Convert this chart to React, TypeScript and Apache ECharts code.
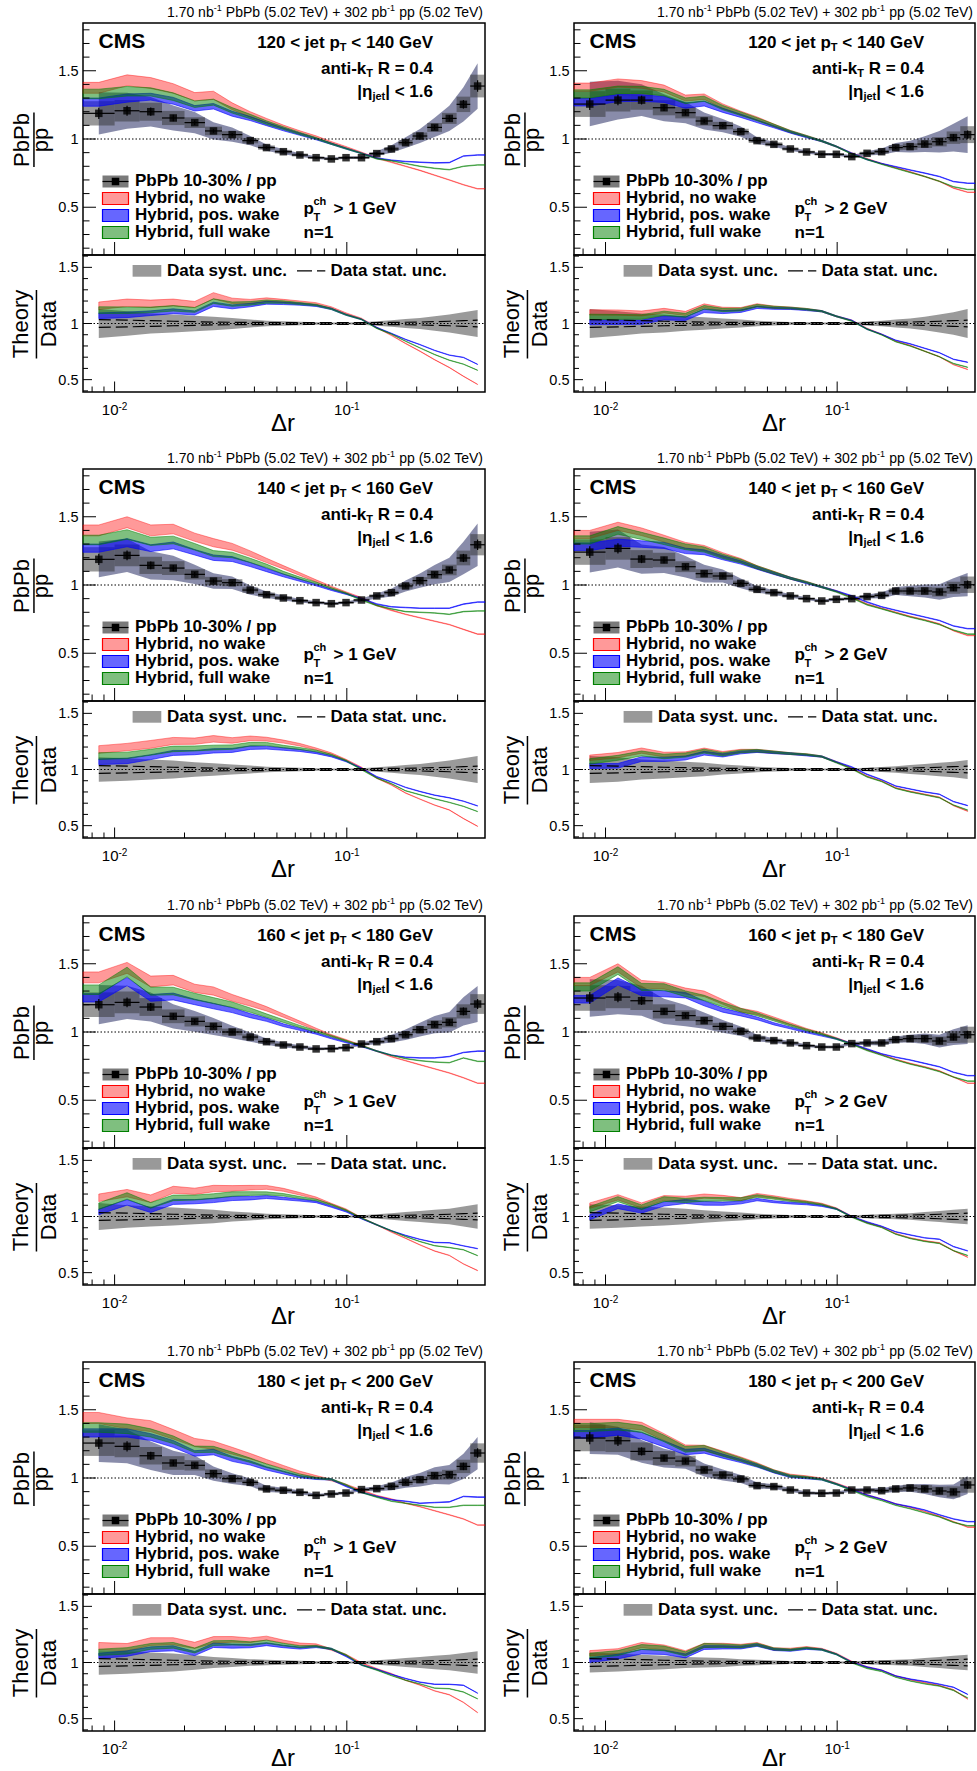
import React, { useEffect, useRef } from 'react';
import * as echarts from 'echarts';

const FF = '"Liberation Sans", Arial, Helvetica, sans-serif';

// Δr bin edges
const binEdges = [0.00731, 0.01, 0.0128, 0.016, 0.02, 0.0245, 0.029, 0.0355, 0.0415, 0.049, 0.058, 0.068, 0.08, 0.092, 0.107, 0.125, 0.145, 0.167, 0.192, 0.222, 0.257, 0.297, 0.34, 0.3936];
const X_MIN = binEdges[0];
const X_MAX = binEdges[binEdges.length - 1];
const binCenters = binEdges.slice(0, -1).map((e, i) => Math.sqrt(e * binEdges[i + 1]));

// ticks
const yTickValues = [0.5, 1, 1.5];
const yTickLabels = ['0.5', '1', '1.5'];
const yMinorTop = [0.2, 0.3, 0.4, 0.6, 0.7, 0.8, 0.9, 1.1, 1.2, 1.3, 1.4, 1.6, 1.7, 1.8];
const yMinorBottom = [0.4, 0.6, 0.7, 0.8, 0.9, 1.1, 1.2, 1.3, 1.4, 1.6];
const xTickValues = [0.01, 0.1];
const xTickExponents = ['-2', '-1'];
const xMinorValues = [0.008, 0.009, 0.02, 0.03, 0.04, 0.05, 0.06, 0.07, 0.08, 0.09, 0.2, 0.3];

const jetPtBins = [['120', '140'], ['140', '160'], ['160', '180'], ['180', '200']];
const trackPtCuts = ['1', '2'];

// relative data uncertainties
const boxRel = [0.075, 0.065, 0.055, 0.045, 0.035, 0.03, 0.025, 0.02, 0.017, 0.015, 0.012, 0.01, 0.01, 0.01, 0.01, 0.012, 0.015, 0.02, 0.025, 0.03, 0.035, 0.045, 0.06];
const statRel = [0.035, 0.03, 0.025, 0.02, 0.016, 0.013, 0.011, 0.01, 0.009, 0.008, 0.008, 0.008, 0.008, 0.008, 0.008, 0.009, 0.01, 0.011, 0.013, 0.016, 0.02, 0.025, 0.03];

// theory band half widths per track-pT cut
const widthNoWake_pt1 = [0.04, 0.04, 0.04, 0.035, 0.03, 0.03, 0.025, 0.02, 0.016, 0.012, 0.01, 0.008, 0.006, 0.005, 0.004, 0.003, 0.003, 0.002, 0.002, 0.002, 0.002, 0.002, 0.002];
const widthPosWake_pt1 = [0.03, 0.03, 0.025, 0.025, 0.02, 0.02, 0.018, 0.015, 0.012, 0.01, 0.008, 0.006, 0.005, 0.004, 0.003, 0.003, 0.002, 0.002, 0.002, 0.002, 0.002, 0.002, 0.002];
const widthFullWake_pt1 = [0.035, 0.035, 0.03, 0.028, 0.024, 0.022, 0.02, 0.016, 0.013, 0.01, 0.008, 0.006, 0.005, 0.004, 0.003, 0.003, 0.002, 0.002, 0.002, 0.002, 0.002, 0.002, 0.002];
const widthNoWake_pt2 = [0.03, 0.03, 0.028, 0.025, 0.022, 0.02, 0.017, 0.014, 0.012, 0.01, 0.008, 0.006, 0.005, 0.004, 0.003, 0.003, 0.002, 0.002, 0.002, 0.002, 0.002, 0.002, 0.002];
const widthPosWake_pt2 = [0.028, 0.026, 0.024, 0.022, 0.02, 0.018, 0.015, 0.012, 0.01, 0.008, 0.007, 0.006, 0.005, 0.004, 0.003, 0.003, 0.002, 0.002, 0.002, 0.002, 0.002, 0.002, 0.002];
const widthFullWake_pt2 = [0.03, 0.028, 0.026, 0.024, 0.021, 0.019, 0.016, 0.013, 0.011, 0.009, 0.007, 0.006, 0.005, 0.004, 0.003, 0.003, 0.002, 0.002, 0.002, 0.002, 0.002, 0.002, 0.002];

// 120 < pT < 140
const ratio_120_140_pt1 = [1.188, 1.207, 1.2, 1.154, 1.12, 1.059, 1.032, 0.988, 0.937, 0.907, 0.883, 0.863, 0.854, 0.863, 0.863, 0.893, 0.927, 0.973, 1.022, 1.085, 1.151, 1.254, 1.388];
const sys_120_140_pt1 = [0.13, 0.11, 0.09, 0.08, 0.07, 0.06, 0.05, 0.035, 0.025, 0.02, 0.015, 0.012, 0.01, 0.01, 0.012, 0.02, 0.03, 0.04, 0.05, 0.065, 0.08, 0.1, 0.12];
const noWake_120_140_pt1 = [1.375, 1.43, 1.41, 1.37, 1.31, 1.32, 1.24, 1.18, 1.135, 1.09, 1.05, 1.015, 0.975, 0.94, 0.9, 0.86, 0.83, 0.8, 0.77, 0.735, 0.7, 0.665, 0.635];
const posWake_120_140_pt1 = [1.27, 1.3, 1.31, 1.28, 1.225, 1.24, 1.185, 1.15, 1.11, 1.07, 1.035, 1.0, 0.965, 0.93, 0.895, 0.86, 0.845, 0.835, 0.83, 0.825, 0.827, 0.875, 0.883];
const fullWake_120_140_pt1 = [1.33, 1.35, 1.345, 1.31, 1.255, 1.27, 1.21, 1.165, 1.12, 1.08, 1.04, 1.005, 0.965, 0.93, 0.895, 0.855, 0.84, 0.82, 0.8, 0.785, 0.775, 0.8, 0.81];

const ratio_120_140_pt2 = [1.256, 1.285, 1.285, 1.229, 1.193, 1.132, 1.098, 1.054, 0.988, 0.961, 0.927, 0.905, 0.888, 0.888, 0.871, 0.895, 0.907, 0.937, 0.944, 0.963, 0.98, 1.01, 1.032];
const sys_120_140_pt2 = [0.13, 0.11, 0.09, 0.08, 0.065, 0.055, 0.045, 0.035, 0.025, 0.018, 0.014, 0.012, 0.01, 0.01, 0.012, 0.018, 0.025, 0.035, 0.045, 0.06, 0.08, 0.1, 0.13];
const noWake_120_140_pt2 = [1.38, 1.41, 1.4, 1.37, 1.3, 1.31, 1.24, 1.19, 1.15, 1.1, 1.055, 1.02, 0.985, 0.945, 0.895, 0.855, 0.82, 0.79, 0.76, 0.725, 0.69, 0.64, 0.61];
const posWake_120_140_pt2 = [1.27, 1.3, 1.3, 1.29, 1.245, 1.26, 1.21, 1.17, 1.13, 1.09, 1.05, 1.015, 0.985, 0.945, 0.895, 0.85, 0.82, 0.797, 0.773, 0.75, 0.725, 0.688, 0.676];
const fullWake_120_140_pt2 = [1.33, 1.36, 1.36, 1.34, 1.28, 1.295, 1.23, 1.185, 1.145, 1.1, 1.055, 1.02, 0.985, 0.945, 0.89, 0.85, 0.815, 0.785, 0.755, 0.725, 0.69, 0.65, 0.63];

// 140 < pT < 160
const ratio_140_160_pt1 = [1.188, 1.217, 1.144, 1.124, 1.078, 1.029, 1.017, 0.963, 0.929, 0.905, 0.885, 0.871, 0.863, 0.871, 0.89, 0.92, 0.944, 0.993, 1.032, 1.076, 1.11, 1.198, 1.295];
const sys_140_160_pt1 = [0.11, 0.1, 0.09, 0.08, 0.065, 0.055, 0.045, 0.035, 0.025, 0.02, 0.015, 0.012, 0.01, 0.01, 0.012, 0.02, 0.03, 0.04, 0.05, 0.065, 0.08, 0.1, 0.12];
const noWake_140_160_pt1 = [1.4, 1.46, 1.4, 1.41, 1.35, 1.31, 1.28, 1.23, 1.18, 1.13, 1.08, 1.03, 0.985, 0.945, 0.905, 0.85, 0.815, 0.785, 0.76, 0.735, 0.71, 0.675, 0.64];
const posWake_140_160_pt1 = [1.27, 1.31, 1.27, 1.29, 1.24, 1.2, 1.19, 1.15, 1.11, 1.07, 1.035, 1.0, 0.965, 0.935, 0.9, 0.86, 0.84, 0.835, 0.83, 0.83, 0.83, 0.86, 0.875];
const fullWake_140_160_pt1 = [1.33, 1.37, 1.32, 1.33, 1.28, 1.23, 1.22, 1.18, 1.14, 1.09, 1.05, 1.015, 0.975, 0.94, 0.89, 0.85, 0.825, 0.805, 0.8, 0.795, 0.785, 0.805, 0.81];

const ratio_140_160_pt2 = [1.241, 1.268, 1.19, 1.183, 1.134, 1.083, 1.066, 1.012, 0.968, 0.944, 0.92, 0.9, 0.883, 0.895, 0.9, 0.915, 0.924, 0.956, 0.956, 0.956, 0.949, 0.98, 1.002];
const sys_140_160_pt2 = [0.12, 0.11, 0.09, 0.08, 0.07, 0.06, 0.045, 0.035, 0.025, 0.018, 0.014, 0.012, 0.01, 0.01, 0.012, 0.016, 0.022, 0.03, 0.04, 0.05, 0.06, 0.07, 0.085];
const noWake_140_160_pt2 = [1.37, 1.43, 1.39, 1.34, 1.29, 1.27, 1.22, 1.18, 1.13, 1.09, 1.05, 1.02, 0.985, 0.955, 0.91, 0.86, 0.83, 0.8, 0.77, 0.745, 0.715, 0.665, 0.63];
const posWake_140_160_pt2 = [1.28, 1.31, 1.3, 1.29, 1.25, 1.24, 1.2, 1.165, 1.125, 1.085, 1.05, 1.015, 0.985, 0.955, 0.92, 0.875, 0.84, 0.815, 0.79, 0.765, 0.74, 0.7, 0.68];
const fullWake_140_160_pt2 = [1.33, 1.4, 1.36, 1.32, 1.28, 1.26, 1.21, 1.175, 1.13, 1.09, 1.05, 1.02, 0.985, 0.95, 0.905, 0.855, 0.825, 0.795, 0.765, 0.74, 0.71, 0.67, 0.64];

// 160 < pT < 180
const ratio_160_180_pt1 = [1.2, 1.217, 1.183, 1.115, 1.078, 1.041, 1.0, 0.963, 0.929, 0.905, 0.89, 0.876, 0.878, 0.885, 0.912, 0.929, 0.951, 0.98, 1.017, 1.054, 1.071, 1.151, 1.205];
const sys_160_180_pt1 = [0.12, 0.1, 0.09, 0.08, 0.07, 0.06, 0.045, 0.035, 0.025, 0.02, 0.015, 0.012, 0.01, 0.01, 0.012, 0.02, 0.03, 0.04, 0.05, 0.06, 0.07, 0.09, 0.11];
const noWake_160_180_pt1 = [1.4, 1.47, 1.37, 1.38, 1.32, 1.3, 1.25, 1.21, 1.17, 1.12, 1.07, 1.02, 0.975, 0.94, 0.9, 0.86, 0.82, 0.79, 0.76, 0.73, 0.7, 0.665, 0.625];
const posWake_160_180_pt1 = [1.25, 1.37, 1.25, 1.26, 1.22, 1.19, 1.16, 1.12, 1.09, 1.05, 1.02, 0.99, 0.955, 0.925, 0.895, 0.86, 0.83, 0.815, 0.81, 0.81, 0.82, 0.85, 0.86];
const fullWake_160_180_pt1 = [1.31, 1.44, 1.3, 1.3, 1.26, 1.23, 1.2, 1.16, 1.12, 1.08, 1.04, 1.005, 0.97, 0.935, 0.9, 0.86, 0.83, 0.805, 0.79, 0.78, 0.775, 0.81, 0.785];

const ratio_160_180_pt2 = [1.249, 1.256, 1.229, 1.151, 1.12, 1.083, 1.041, 1.005, 0.956, 0.937, 0.92, 0.9, 0.89, 0.89, 0.915, 0.92, 0.92, 0.944, 0.951, 0.951, 0.934, 0.963, 0.98];
const sys_160_180_pt2 = [0.11, 0.1, 0.09, 0.08, 0.07, 0.055, 0.045, 0.035, 0.025, 0.018, 0.014, 0.012, 0.01, 0.01, 0.012, 0.016, 0.02, 0.025, 0.03, 0.04, 0.05, 0.06, 0.07];
const noWake_160_180_pt2 = [1.37, 1.47, 1.35, 1.34, 1.3, 1.28, 1.22, 1.16, 1.14, 1.1, 1.06, 1.02, 0.99, 0.955, 0.915, 0.87, 0.835, 0.8, 0.77, 0.745, 0.715, 0.67, 0.625];
const posWake_160_180_pt2 = [1.24, 1.37, 1.29, 1.28, 1.27, 1.21, 1.16, 1.13, 1.1, 1.06, 1.03, 1.0, 0.975, 0.95, 0.915, 0.875, 0.84, 0.815, 0.795, 0.77, 0.745, 0.705, 0.68];
const fullWake_160_180_pt2 = [1.33, 1.45, 1.33, 1.33, 1.28, 1.25, 1.2, 1.16, 1.13, 1.09, 1.05, 1.015, 0.985, 0.95, 0.91, 0.865, 0.83, 0.795, 0.765, 0.74, 0.71, 0.67, 0.64];

// 180 < pT < 200
const ratio_180_200_pt1 = [1.256, 1.232, 1.163, 1.11, 1.093, 1.032, 0.995, 0.968, 0.92, 0.91, 0.895, 0.873, 0.883, 0.89, 0.915, 0.922, 0.939, 0.968, 0.988, 1.017, 1.024, 1.085, 1.183];
const sys_180_200_pt1 = [0.11, 0.1, 0.09, 0.08, 0.065, 0.05, 0.04, 0.03, 0.025, 0.02, 0.015, 0.012, 0.01, 0.01, 0.012, 0.02, 0.03, 0.04, 0.05, 0.06, 0.07, 0.085, 0.1];
const noWake_180_200_pt1 = [1.44, 1.4, 1.38, 1.32, 1.26, 1.24, 1.2, 1.16, 1.12, 1.08, 1.04, 1.01, 0.985, 0.95, 0.91, 0.87, 0.845, 0.815, 0.79, 0.76, 0.73, 0.7, 0.655];
const posWake_180_200_pt1 = [1.33, 1.33, 1.3, 1.25, 1.18, 1.19, 1.14, 1.11, 1.07, 1.04, 1.01, 0.995, 0.99, 0.94, 0.895, 0.865, 0.84, 0.83, 0.815, 0.82, 0.825, 0.865, 0.86];
const fullWake_180_200_pt1 = [1.37, 1.36, 1.33, 1.28, 1.21, 1.21, 1.17, 1.13, 1.09, 1.055, 1.02, 1.0, 0.99, 0.95, 0.895, 0.86, 0.83, 0.815, 0.8, 0.785, 0.785, 0.8, 0.8];

const ratio_180_200_pt2 = [1.293, 1.273, 1.195, 1.146, 1.124, 1.059, 1.022, 0.993, 0.944, 0.937, 0.912, 0.89, 0.888, 0.89, 0.912, 0.912, 0.907, 0.92, 0.927, 0.92, 0.905, 0.898, 0.949];
const sys_180_200_pt2 = [0.09, 0.08, 0.07, 0.06, 0.05, 0.045, 0.04, 0.03, 0.025, 0.018, 0.014, 0.012, 0.01, 0.01, 0.012, 0.015, 0.02, 0.025, 0.03, 0.04, 0.05, 0.06, 0.07];
const noWake_180_200_pt2 = [1.4, 1.4, 1.38, 1.3, 1.22, 1.22, 1.18, 1.14, 1.1, 1.05, 1.02, 1.01, 0.995, 0.96, 0.92, 0.875, 0.845, 0.81, 0.785, 0.755, 0.72, 0.68, 0.64];
const posWake_180_200_pt2 = [1.32, 1.34, 1.31, 1.25, 1.19, 1.2, 1.16, 1.125, 1.09, 1.045, 1.01, 1.0, 0.99, 0.955, 0.915, 0.875, 0.845, 0.81, 0.79, 0.765, 0.73, 0.7, 0.68];
const fullWake_180_200_pt2 = [1.37, 1.38, 1.36, 1.29, 1.21, 1.22, 1.175, 1.135, 1.095, 1.05, 1.015, 1.005, 0.99, 0.955, 0.91, 0.865, 0.835, 0.8, 0.775, 0.745, 0.715, 0.675, 0.65];

const panels = [
  { row: 0, col: 0, ratio: ratio_120_140_pt1, sys: sys_120_140_pt1, noWake: noWake_120_140_pt1, posWake: posWake_120_140_pt1, fullWake: fullWake_120_140_pt1 },
  { row: 0, col: 1, ratio: ratio_120_140_pt2, sys: sys_120_140_pt2, noWake: noWake_120_140_pt2, posWake: posWake_120_140_pt2, fullWake: fullWake_120_140_pt2 },
  { row: 1, col: 0, ratio: ratio_140_160_pt1, sys: sys_140_160_pt1, noWake: noWake_140_160_pt1, posWake: posWake_140_160_pt1, fullWake: fullWake_140_160_pt1 },
  { row: 1, col: 1, ratio: ratio_140_160_pt2, sys: sys_140_160_pt2, noWake: noWake_140_160_pt2, posWake: posWake_140_160_pt2, fullWake: fullWake_140_160_pt2 },
  { row: 2, col: 0, ratio: ratio_160_180_pt1, sys: sys_160_180_pt1, noWake: noWake_160_180_pt1, posWake: posWake_160_180_pt1, fullWake: fullWake_160_180_pt1 },
  { row: 2, col: 1, ratio: ratio_160_180_pt2, sys: sys_160_180_pt2, noWake: noWake_160_180_pt2, posWake: posWake_160_180_pt2, fullWake: fullWake_160_180_pt2 },
  { row: 3, col: 0, ratio: ratio_180_200_pt1, sys: sys_180_200_pt1, noWake: noWake_180_200_pt1, posWake: posWake_180_200_pt1, fullWake: fullWake_180_200_pt1 },
  { row: 3, col: 1, ratio: ratio_180_200_pt2, sys: sys_180_200_pt2, noWake: noWake_180_200_pt2, posWake: posWake_180_200_pt2, fullWake: fullWake_180_200_pt2 },
];
const widths = [
  { noWake: widthNoWake_pt1, posWake: widthPosWake_pt1, fullWake: widthFullWake_pt1 },
  { noWake: widthNoWake_pt2, posWake: widthPosWake_pt2, fullWake: widthFullWake_pt2 },
];

// layout
const ROW_Y = [0, 446, 893, 1339];
const COL_X = [83, 574];
const COL_W = [402, 401];
const TOP_Y = 23, TOP_H = 232, BOT_Y = 255, BOT_H = 137;
const TOP_RANGE = [0.15, 1.85];
const BOT_RANGE = [0.39, 1.61];
const PAGE_H = 1771;

const RED = { fill: 'rgba(255,0,0,0.4)', line: '#ff0000' };
const BLUE = { fill: 'rgba(0,0,255,0.6)', line: '#0000ff' };
const GREEN = { fill: 'rgba(0,128,0,0.5)', line: '#008000' };
const SLATE = 'rgba(40,45,100,0.55)';
const BOX = 'rgba(50,50,50,0.5)';
const SYS_GREY = 'rgba(100,100,100,0.65)';

const ln = (x1: number, y1: number, x2: number, y2: number, extra: any = {}) => ({
  type: 'line', shape: { x1, y1, x2, y2 }, style: { stroke: '#000', lineWidth: 1, ...extra },
});

function custom(gi: number, z: number, draw: (api: any) => any[]) {
  return {
    type: 'custom', coordinateSystem: 'cartesian2d', xAxisIndex: gi, yAxisIndex: gi, z, silent: true, clip: false,
    data: [[binCenters[0], 1]],
    renderItem: (_params: any, api: any) => ({ type: 'group', children: draw(api) }),
  };
}

function bandPolygon(api: any, xs: number[], lo: number[], hi: number[], style: any) {
  const up = xs.map((x, i) => api.coord([x, hi[i]]));
  const dn = xs.map((x, i) => api.coord([x, lo[i]])).reverse();
  return { type: 'polygon', shape: { points: up.concat(dn) }, style };
}

function axisDraw(isTop: boolean, withXLabels: boolean) {
  return (api: any) => {
    const els: any[] = [];
    const yr = isTop ? TOP_RANGE : BOT_RANGE;
    const yMaj = isTop ? 13 : 9, yMin = isTop ? 6.5 : 5;
    const xMaj = isTop ? 13 : 10.5, xMin = isTop ? 6.5 : 5.5;
    yTickValues.forEach((v, i) => {
      const p = api.coord([X_MIN, v]);
      els.push(ln(p[0], p[1], p[0] + yMaj, p[1]));
      els.push({
        type: 'text', x: p[0] - 4.5, y: p[1],
        style: { text: yTickLabels[i], fill: '#000', fontSize: 14.5, fontFamily: FF, textAlign: 'right', textVerticalAlign: 'middle', align: 'right', verticalAlign: 'middle' },
      });
    });
    (isTop ? yMinorTop : yMinorBottom).forEach((v) => {
      const p = api.coord([X_MIN, v]);
      els.push(ln(p[0], p[1], p[0] + yMin, p[1]));
    });
    xTickValues.forEach((x, i) => {
      const p = api.coord([x, yr[0]]);
      els.push(ln(p[0], p[1], p[0], p[1] - xMaj));
      if (withXLabels) {
        els.push({
          type: 'text', x: p[0], y: p[1] + 17.5,
          style: {
            text: '{b|10}{s|' + xTickExponents[i] + '}', fill: '#000',
            rich: {
              b: { fontSize: 15, fontFamily: FF, lineHeight: 16, fill: '#000' },
              s: { fontSize: 10, fontFamily: FF, lineHeight: 4, verticalAlign: 'top', fill: '#000' },
            },
            textAlign: 'center', textVerticalAlign: 'middle', align: 'center', verticalAlign: 'middle',
          },
        });
      }
    });
    xMinorValues.forEach((x) => {
      const p = api.coord([x, yr[0]]);
      els.push(ln(p[0], p[1], p[0], p[1] - xMin));
    });
    return els;
  };
}

function panelGraphics(pi: number) {
  const p = panels[pi];
  const R = ROW_Y[p.row], L = COL_X[p.col], Rt = L + COL_W[p.col];
  const [lo, hi] = jetPtBins[p.row];
  const cut = trackPtCuts[p.col];
  const g: any[] = [];
  const T = (x: number, y: number, style: any, extra: any = {}) =>
    g.push({ type: 'text', x, y, z: 100, silent: true, style: { fill: '#000', ...style }, ...extra });
  const bold = (size: number) => ({ fontSize: size, fontWeight: 'bold', fontFamily: FF });
  const richBold = {
    m: { fontSize: 17, fontWeight: 'bold', fontFamily: FF, lineHeight: 20, fill: '#000' },
    s: { fontSize: 11, fontWeight: 'bold', fontFamily: FF, lineHeight: 4, verticalAlign: 'bottom', fill: '#000' },
  };
  const right = { textAlign: 'right', textVerticalAlign: 'middle' };
  const left = { textAlign: 'left', textVerticalAlign: 'middle' };
  const center = { textAlign: 'center', textVerticalAlign: 'middle' };

  T(Rt - 2, R + 11.7, {
    text: '{m|1.70 nb}{s|-1}{m| PbPb (5.02 TeV) + 302 pb}{s|-1}{m| pp (5.02 TeV)}',
    rich: {
      m: { fontSize: 14, fontFamily: FF, lineHeight: 16, fill: '#000' },
      s: { fontSize: 9, fontFamily: FF, lineHeight: 6, verticalAlign: 'top', fill: '#000' },
    },
    ...right,
  });
  T(L + 15.5, R + 40.8, { text: 'CMS', ...bold(21), ...left });
  T(L + 350, R + 42.5, { text: `{m|${lo} < jet p}{s|T}{m| < ${hi} GeV}`, rich: richBold, ...right });
  T(L + 350, R + 68, { text: '{m|anti-k}{s|T}{m| R = 0.4}', rich: richBold, ...right });
  T(L + 350, R + 91.3, { text: '{m||η}{s|jet}{m|| < 1.6}', rich: richBold, ...right });

  // legend (top pad)
  const legY = [180.5, 197.5, 214.5, 231.5];
  const legText = ['PbPb 10-30% / pp', 'Hybrid, no wake', 'Hybrid, pos. wake', 'Hybrid, full wake'];
  const legCol = [null, RED, BLUE, GREEN];
  legY.forEach((yy, k) => {
    const cy = R + yy + 1;
    const bx = L + 19.5, bw = 26;
    if (k === 0) {
      g.push({ type: 'rect', z: 100, silent: true, shape: { x: bx, y: cy - 6, width: bw, height: 12 }, style: { fill: '#7a7a7a' } });
      g.push({ type: 'line', z: 101, silent: true, shape: { x1: bx, y1: cy, x2: bx + bw, y2: cy }, style: { stroke: '#000', lineWidth: 1.2 } });
      g.push({ type: 'rect', z: 101, silent: true, shape: { x: bx + bw / 2 - 3.75, y: cy - 3.75, width: 7.5, height: 7.5 }, style: { fill: '#000' } });
    } else {
      const c: any = legCol[k];
      g.push({ type: 'rect', z: 100, silent: true, shape: { x: bx, y: cy - 6, width: bw, height: 12 }, style: { fill: c.fill, stroke: c.line, lineWidth: 1.2 } });
    }
    T(L + 52, R + yy, { text: legText[k], ...bold(17), ...left });
  });
  // track pT cut
  T(L + 220.6, R + 208.3, { text: 'p', ...bold(17), ...left });
  T(L + 230.5, R + 201, { text: 'ch', ...bold(11), ...left });
  T(L + 230.5, R + 216.5, { text: 'T', ...bold(11), ...left });
  T(L + 250.6, R + 208.3, { text: `> ${cut} GeV`, ...bold(17), ...left });
  T(L + 220.6, R + 232, { text: 'n=1', ...bold(17), ...left });

  // y titles
  const rot = { rotation: Math.PI / 2 };
  T(L - 61.3, R + 140, { text: 'PbPb', fontSize: 22, fontFamily: FF, ...center }, rot);
  T(L - 42.9, R + 140, { text: 'pp', fontSize: 22, fontFamily: FF, ...center }, rot);
  g.push({ type: 'rect', z: 100, silent: true, shape: { x: L - 49.8, y: R + 112.5, width: 1.5, height: 54.5 }, style: { fill: '#000' } });
  T(L - 62.5, R + 324, { text: 'Theory', fontSize: 22, fontFamily: FF, ...center }, rot);
  T(L - 34.6, R + 324, { text: 'Data', fontSize: 22, fontFamily: FF, ...center }, rot);
  g.push({ type: 'rect', z: 100, silent: true, shape: { x: L - 47.3, y: R + 290, width: 1.5, height: 68.5 }, style: { fill: '#000' } });

  // bottom legend
  g.push({ type: 'rect', z: 100, silent: true, shape: { x: L + 49.6, y: R + 265, width: 28.7, height: 11.7 }, style: { fill: '#999999' } });
  T(L + 84, R + 270.5, { text: 'Data syst. unc.', ...bold(17), ...left });
  g.push({ type: 'line', z: 100, silent: true, shape: { x1: L + 214, y1: R + 270.8, x2: L + 242.3, y2: R + 270.8 }, style: { stroke: '#000', lineWidth: 1.3, lineDash: [15, 5] } });
  T(L + 247.5, R + 270.5, { text: 'Data stat. unc.', ...bold(17), ...left });

  // x title (kept inside the page for the last row)
  T(L + 200, Math.min(R + 422, PAGE_H - 14), { text: 'Δr', fontSize: 24, fontFamily: FF, ...center });
  return g;
}

function buildOption() {
  const grid: any[] = [], xAxis: any[] = [], yAxis: any[] = [], series: any[] = [], graphic: any[] = [];
  panels.forEach((p, pi) => {
    const R = ROW_Y[p.row], L = COL_X[p.col], W = COL_W[p.col];
    const w = widths[p.col];
    const gt = pi * 2, gb = pi * 2 + 1;
    const frame = { show: true, borderColor: '#000', borderWidth: 1.5, backgroundColor: 'transparent' };
    grid.push({ left: L, top: R + TOP_Y, width: W, height: TOP_H, ...frame });
    grid.push({ left: L, top: R + BOT_Y, width: W, height: BOT_H, ...frame });
    [TOP_RANGE, BOT_RANGE].forEach((rg, k) => {
      const gi = pi * 2 + k;
      xAxis.push({ type: 'log', logBase: 10, gridIndex: gi, min: X_MIN, max: X_MAX, show: false, splitLine: { show: false } });
      yAxis.push({ type: 'value', gridIndex: gi, min: rg[0], max: rg[1], show: false, splitLine: { show: false } });
    });
    const v = p.ratio;
    const xs = binCenters;
    const models = [
      { c: p.noWake, wd: w.noWake, col: RED },
      { c: p.posWake, wd: w.posWake, col: BLUE },
      { c: p.fullWake, wd: w.fullWake, col: GREEN },
    ];

    // ---------- top pad ----------
    series.push(custom(gt, 2, (api) => {
      const els: any[] = [bandPolygon(api, xs, v.map((y, i) => y * (1 - p.sys[i])), v.map((y, i) => y * (1 + p.sys[i])), { fill: SLATE })];
      v.forEach((y, i) => {
        const a = api.coord([binEdges[i], y * (1 + boxRel[i])]);
        const b = api.coord([binEdges[i + 1], y * (1 - boxRel[i])]);
        els.push({ type: 'rect', shape: { x: a[0], y: a[1], width: b[0] - a[0], height: b[1] - a[1] }, style: { fill: BOX } });
      });
      return els;
    }));
    const tx = [X_MIN, ...xs, X_MAX];
    const ext = (arr: number[]) => [arr[0], ...arr, arr[arr.length - 1]];
    series.push(custom(gt, 3, (api) => models.map((m) => {
      const c = ext(m.c), wd = ext(m.wd);
      return bandPolygon(api, tx, c.map((y, i) => y - wd[i]), c.map((y, i) => y + wd[i]), { fill: m.col.fill, stroke: m.col.fill, lineWidth: 1 });
    })));
    series.push(custom(gt, 4, (api) => {
      const a = api.coord([X_MIN, 1]), b = api.coord([X_MAX, 1]);
      const els: any[] = [ln(a[0], a[1], b[0], b[1], { lineDash: [1.5, 2], lineWidth: 1 })];
      v.forEach((y, i) => {
        const l = api.coord([binEdges[i], y]), r = api.coord([binEdges[i + 1], y]);
        els.push(ln(l[0], l[1], r[0], r[1], { lineWidth: 1.2 }));
        const u = api.coord([xs[i], y * (1 + statRel[i])]), d = api.coord([xs[i], y * (1 - statRel[i])]);
        els.push(ln(u[0], u[1], d[0], d[1], { lineWidth: 1.2 }));
      });
      return els;
    }));
    series.push({
      type: 'scatter', xAxisIndex: gt, yAxisIndex: gt, z: 5, silent: true,
      data: xs.map((x, i) => [x, v[i]]), symbol: 'rect', symbolSize: 7.5, itemStyle: { color: '#000' },
    });
    series.push(custom(gt, 6, axisDraw(true, false)));

    // ---------- bottom pad ----------
    series.push(custom(gb, 2, (api) => [
      bandPolygon(api, xs, p.sys.map((s) => 1 - s), p.sys.map((s) => 1 + s), { fill: SYS_GREY }),
    ]));
    series.push(custom(gb, 3, (api) => models.map((m) =>
      bandPolygon(api, xs, m.c.map((y, i) => (y - m.wd[i]) / v[i]), m.c.map((y, i) => (y + m.wd[i]) / v[i]), { fill: m.col.fill, stroke: m.col.fill, lineWidth: 1 }),
    )));
    series.push(custom(gb, 4, (api) => {
      const a = api.coord([X_MIN, 1]), b = api.coord([X_MAX, 1]);
      const up = xs.map((x, i) => api.coord([x, 1 + statRel[i]]));
      const dn = xs.map((x, i) => api.coord([x, 1 - statRel[i]]));
      return [
        { type: 'polyline', shape: { points: up }, style: { stroke: '#000', lineWidth: 1.2, lineDash: [12, 5], fill: 'none' } },
        { type: 'polyline', shape: { points: dn }, style: { stroke: '#000', lineWidth: 1.2, lineDash: [12, 5], fill: 'none' } },
        ln(a[0], a[1], b[0], b[1], { lineDash: [1.5, 2], lineWidth: 1 }),
      ];
    }));
    series.push(custom(gb, 6, axisDraw(false, true)));

    graphic.push(...panelGraphics(pi));
  });
  return { animation: false, backgroundColor: '#ffffff', grid, xAxis, yAxis, series, graphic: { elements: graphic } };
}

export default function App() {
  const ref = useRef<HTMLDivElement>(null);
  useEffect(() => {
    if (!ref.current) return;
    const chart = echarts.init(ref.current, null, { renderer: 'svg' });
    chart.setOption(buildOption() as any);
    return () => chart.dispose();
  }, []);
  return <div ref={ref} style={{ position: 'absolute', left: 0, top: 0, width: 977, height: 1771 }} />;
}
